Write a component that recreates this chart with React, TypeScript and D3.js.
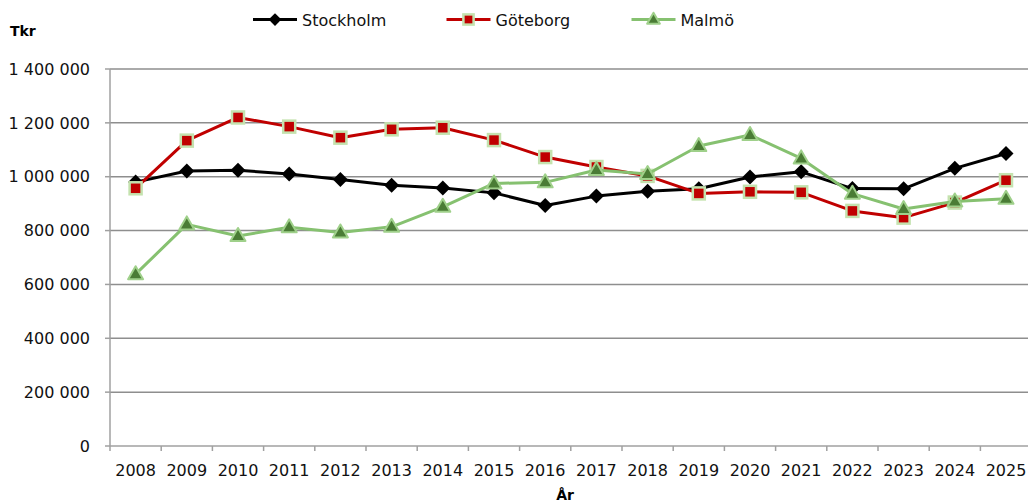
import * as d3 from 'd3'
import { useEffect } from 'react';

const years = ['2008','2009','2010','2011','2012','2013','2014','2015','2016','2017','2018','2019','2020','2021','2022','2023','2024','2025'];
const stockholm = [980000, 1021000, 1024000, 1010000, 990000, 968000, 958000, 940000, 893000, 928000, 946000, 955000, 999000, 1018000, 956000, 955000, 1031000, 1086000];
const goteborg = [957000, 1134000, 1220000, 1186000, 1145000, 1176000, 1182000, 1136000, 1073000, 1036000, 1003000, 938000, 944000, 942000, 873000, 848000, 904000, 987000];
const malmo = [638000, 823000, 780000, 812000, 793000, 814000, 888000, 975000, 979000, 1025000, 1010000, 1114000, 1155000, 1068000, 937000, 880000, 908000, 918000];
const yTicks = [0, 200000, 400000, 600000, 800000, 1000000, 1200000, 1400000];

const FONT = 'DejaVu Sans';

function makeChart(svgEl: SVGSVGElement) {
    const svg = d3.select(svgEl);
    svg.selectAll('*').remove();

    const x = d3.scaleBand().domain(years).range([110, 1031.6]).padding(0);
    const y = d3.scaleLinear().domain([0, 1400000]).range([446, 69]);
    const cx = (yr: string) => (x(yr) as number) + x.bandwidth() / 2;
    const fmt = (v: number) => d3.format(',')(v).replace(/,/g, ' ');

    // gridlines
    svg.append('g').selectAll('line').data(yTicks.filter(d => d > 0)).enter().append('line')
        .attr('x1', 110).attr('x2', 1028).attr('y1', d => y(d)).attr('y2', d => y(d))
        .attr('stroke', '#8e8e8e').attr('stroke-width', 1.5);

    // y axis
    const ya = svg.append('g');
    ya.append('line').attr('x1', 110).attr('x2', 110).attr('y1', 69).attr('y2', 446)
        .attr('stroke', '#a0a0a0').attr('stroke-width', 1.5);
    ya.selectAll('line.t').data(yTicks).enter().append('line').attr('class', 't')
        .attr('x1', 105).attr('x2', 110).attr('y1', d => y(d)).attr('y2', d => y(d))
        .attr('stroke', '#a0a0a0').attr('stroke-width', 1.5);
    ya.selectAll('text').data(yTicks).enter().append('text')
        .attr('x', 90).attr('y', d => y(d)).attr('dy', '0.36em').attr('text-anchor', 'end')
        .attr('font-family', FONT).attr('font-size', 16).attr('fill', '#111')
        .text(d => fmt(d));

    // x axis
    const xa = svg.append('g');
    xa.append('line').attr('x1', 110).attr('x2', 1028).attr('y1', 446).attr('y2', 446)
        .attr('stroke', '#a0a0a0').attr('stroke-width', 1.5);
    xa.selectAll('line.t').data(years).enter().append('line').attr('class', 't')
        .attr('x1', d => x(d) as number).attr('x2', d => x(d) as number).attr('y1', 446).attr('y2', 451)
        .attr('stroke', '#a0a0a0').attr('stroke-width', 1.5);
    xa.selectAll('text').data(years).enter().append('text')
        .attr('x', d => cx(d)).attr('y', 476).attr('text-anchor', 'middle')
        .attr('font-family', FONT).attr('font-size', 16).attr('fill', '#111')
        .text(d => d);

    svg.append('text').attr('x', 565).attr('y', 500).attr('text-anchor', 'middle')
        .attr('font-family', FONT).attr('font-size', 14).attr('font-weight', 'bold').text('År');
    svg.append('text').attr('x', 10).attr('y', 35.5)
        .attr('font-family', FONT).attr('font-size', 14).attr('font-weight', 'bold').text('Tkr');

    const series = [
        { name: 'Stockholm', vals: stockholm, line: '#000000', marker: 'diamond', fill: '#000000', stroke: '#000000', lx: 253 },
        { name: 'Göteborg', vals: goteborg, line: '#c00000', marker: 'square', fill: '#c00000', stroke: '#c4e2ae', lx: 446.5 },
        { name: 'Malmö', vals: malmo, line: '#86c170', marker: 'triangle', fill: '#4a7c35', stroke: '#9fd08a', lx: 631.5 },
    ];

    const lnMkr = d3.line<number>().x((d, i) => cx(years[i])).y(d => y(d));

    const drawMarker = (g: any, s: any, px: number, py: number, r = 1) => {
        if (s.marker === 'diamond') {
            const h = 7.5 * r;
            g.append('path').attr('d', `M${px},${py - h}L${px + h},${py}L${px},${py + h}L${px - h},${py}Z`)
                .attr('fill', s.fill);
        } else if (s.marker === 'square') {
            g.append('rect').attr('x', px - 6 * r).attr('y', py - 6 * r).attr('width', 12 * r).attr('height', 12 * r)
                .attr('fill', s.fill).attr('stroke', s.stroke).attr('stroke-width', 2.5);
        } else {
            g.append('path').attr('d', `M${px},${py - 8 * r}L${px + 7.5 * r},${py + 5 * r}L${px - 7.5 * r},${py + 5 * r}Z`)
                .attr('fill', s.fill).attr('stroke', s.stroke).attr('stroke-width', 2).attr('stroke-linejoin', 'round');
        }
    };

    series.forEach(s => {
        const g = svg.append('g');
        g.append('path').attr('d', lnMkr(s.vals)).attr('fill', 'none')
            .attr('stroke', s.line).attr('stroke-width', 3).attr('stroke-linejoin', 'round');
        s.vals.forEach((v, i) => drawMarker(g, s, cx(years[i]), y(v)));

        // legend
        const lg = svg.append('g');
        lg.append('line').attr('x1', s.lx).attr('x2', s.lx + 44).attr('y1', 19.5).attr('y2', 19.5)
            .attr('stroke', s.line).attr('stroke-width', 3);
        drawMarker(lg, s, s.lx + 22, 19.5, 0.85);
        lg.append('text').attr('x', s.lx + 49).attr('y', 25.5)
            .attr('font-family', FONT).attr('font-size', 16).attr('fill', '#111').text(s.name);
    });
}

function App() {
    useEffect(() => {
        const el = document.getElementById('chart') as unknown as SVGSVGElement;
        if (el) makeChart(el);
    });

    return (
        <svg id="chart" width="1028" height="504"
            style={{ position: 'absolute', left: 0, top: 0, background: '#ffffff' }}>
        </svg>
    );
}

export default App;
